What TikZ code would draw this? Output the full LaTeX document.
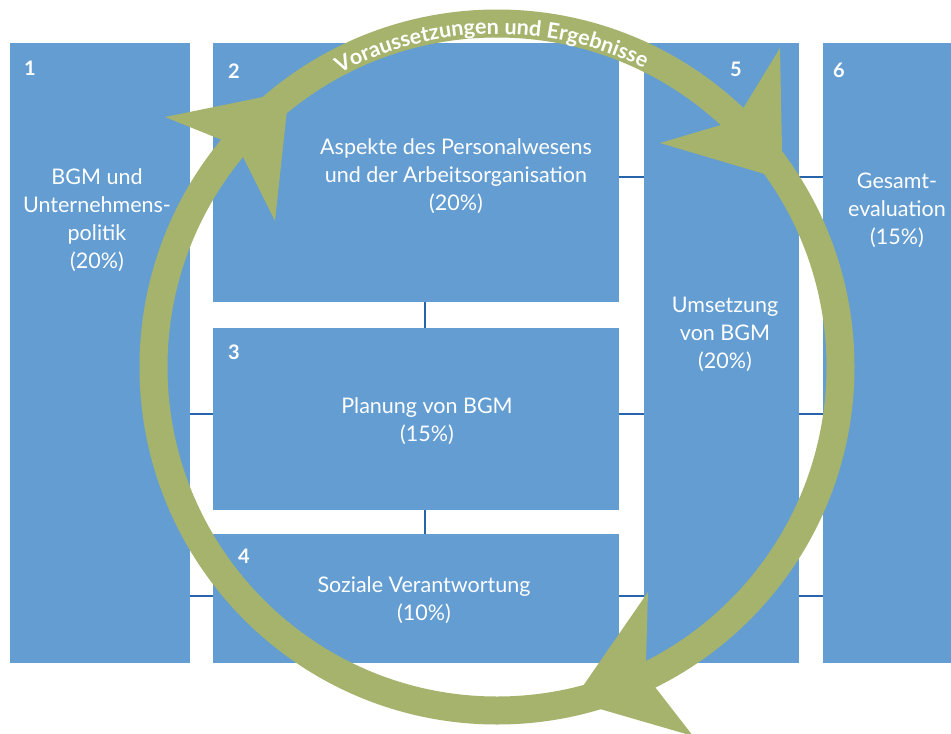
\documentclass[tikz,border=0pt]{standalone}
\usepackage{fontspec}
\setmainfont{Lato}
\usetikzlibrary{decorations.text,calc}
\definecolor{boxblue}{RGB}{99,157,210}
\definecolor{ringgreen}{RGB}{165,179,108}
\definecolor{linkblue}{RGB}{40,100,170}

\begin{document}
\begin{tikzpicture}[x=1pt,y=1pt,
  box/.style={fill=boxblue, draw=none, anchor=north west, inner sep=0pt, outer sep=0pt},
  boxnum/.style={text=white, font=\fontsize{20}{22}\selectfont\bfseries, inner sep=0pt},
  boxtext/.style={text=white, font=\fontsize{21.5}{28}\selectfont, align=center, inner sep=0pt},
  link/.style={draw=linkblue, line width=1.4pt},
  ring/.style={draw=ringgreen, line width=28pt},
  fin/.style={fill=ringgreen, draw=none}
]
\useasboundingbox[fill=white] (0,0) rectangle (951,-734);

% the six building blocks
\node[box, minimum width=180pt, minimum height=620pt] (b1) at (10,-43) {};
\node[box, minimum width=406pt, minimum height=259pt] (b2) at (213,-43) {};
\node[box, minimum width=406pt, minimum height=182pt] (b3) at (213,-328) {};
\node[box, minimum width=406pt, minimum height=129pt] (b4) at (213,-534) {};
\node[box, minimum width=155pt, minimum height=620pt] (b5) at (644,-43) {};
\node[box, minimum width=128pt, minimum height=620pt] (b6) at (823,-43) {};

% thin links across the gaps
\draw[link] (b2.east |- 0,-177) -- (b5.west |- 0,-177);
\draw[link] (b5.east |- 0,-177) -- (b6.west |- 0,-177);
\draw[link] (b1.east |- 0,-414) -- (b3.west |- 0,-414);
\draw[link] (b3.east |- 0,-414) -- (b5.west |- 0,-414);
\draw[link] (b5.east |- 0,-414) -- (b6.west |- 0,-414);
\draw[link] (b1.east |- 0,-596) -- (b4.west |- 0,-596);
\draw[link] (b4.east |- 0,-596) -- (b5.west |- 0,-596);
\draw[link] (b5.east |- 0,-596) -- (b6.west |- 0,-596);
\draw[link] (b2.south -| 425,0) -- (b3.north -| 425,0);
\draw[link] (b3.south -| 425,0) -- (b4.north -| 425,0);

% the cycle ring with its three arrow fins
\coordinate (c) at (497,-367);
\draw[ring] (c) circle[radius=343.5pt];
\fill[fin] (165,-117) -- (263,-97) -- (287,-110) -- (275,-221) -- (243,-157) -- (222,-140) -- cycle;
\fill[fin] (780,-48) -- (782,-150) -- (768,-175) -- (660,-143) -- (721,-125) -- (744,-107) -- cycle;
\fill[fin] (693,-736) -- (600,-709) -- (583,-686) -- (648,-592) -- (646,-662) -- (655,-687) -- cycle;

% ring caption
\path[decorate, decoration={text along path, text align=center,
  text={|\fontsize{21.5}{24}\selectfont\bfseries\color{white}|Voraussetzungen und Ergebnisse}}]
  ($(c)+(122:333pt)$) arc[start angle=122, end angle=60, radius=333pt];

% numbers
\node[boxnum] (n1) at (30,-68) {1};
\node[boxnum] (n2) at (234,-71) {2};
\node[boxnum] (n3) at (234,-352) {3};
\node[boxnum] (n4) at (244,-556) {4};
\node[boxnum] (n5) at (736,-69) {5};
\node[boxnum] (n6) at (839,-70) {6};

% block titles
\node[boxtext] (t1) at (97,-220) {BGM und\\Unternehmens-\\politik\\(20\%)};
\node[boxtext] (t2) at (456,-176) {Aspekte des Personalwesens\\und der Arbeitsorganisation\\(20\%)};
\node[boxtext] (t3) at (427,-421) {Planung von BGM\\(15\%)};
\node[boxtext] (t4) at (424,-600) {Soziale Verantwortung\\(10\%)};
\node[boxtext] (t5) at (725,-334) {Umsetzung\\von BGM\\(20\%)};
\node[boxtext] (t6) at (897,-210) {Gesamt-\\evaluation\\(15\%)};
\end{tikzpicture}
\end{document}
